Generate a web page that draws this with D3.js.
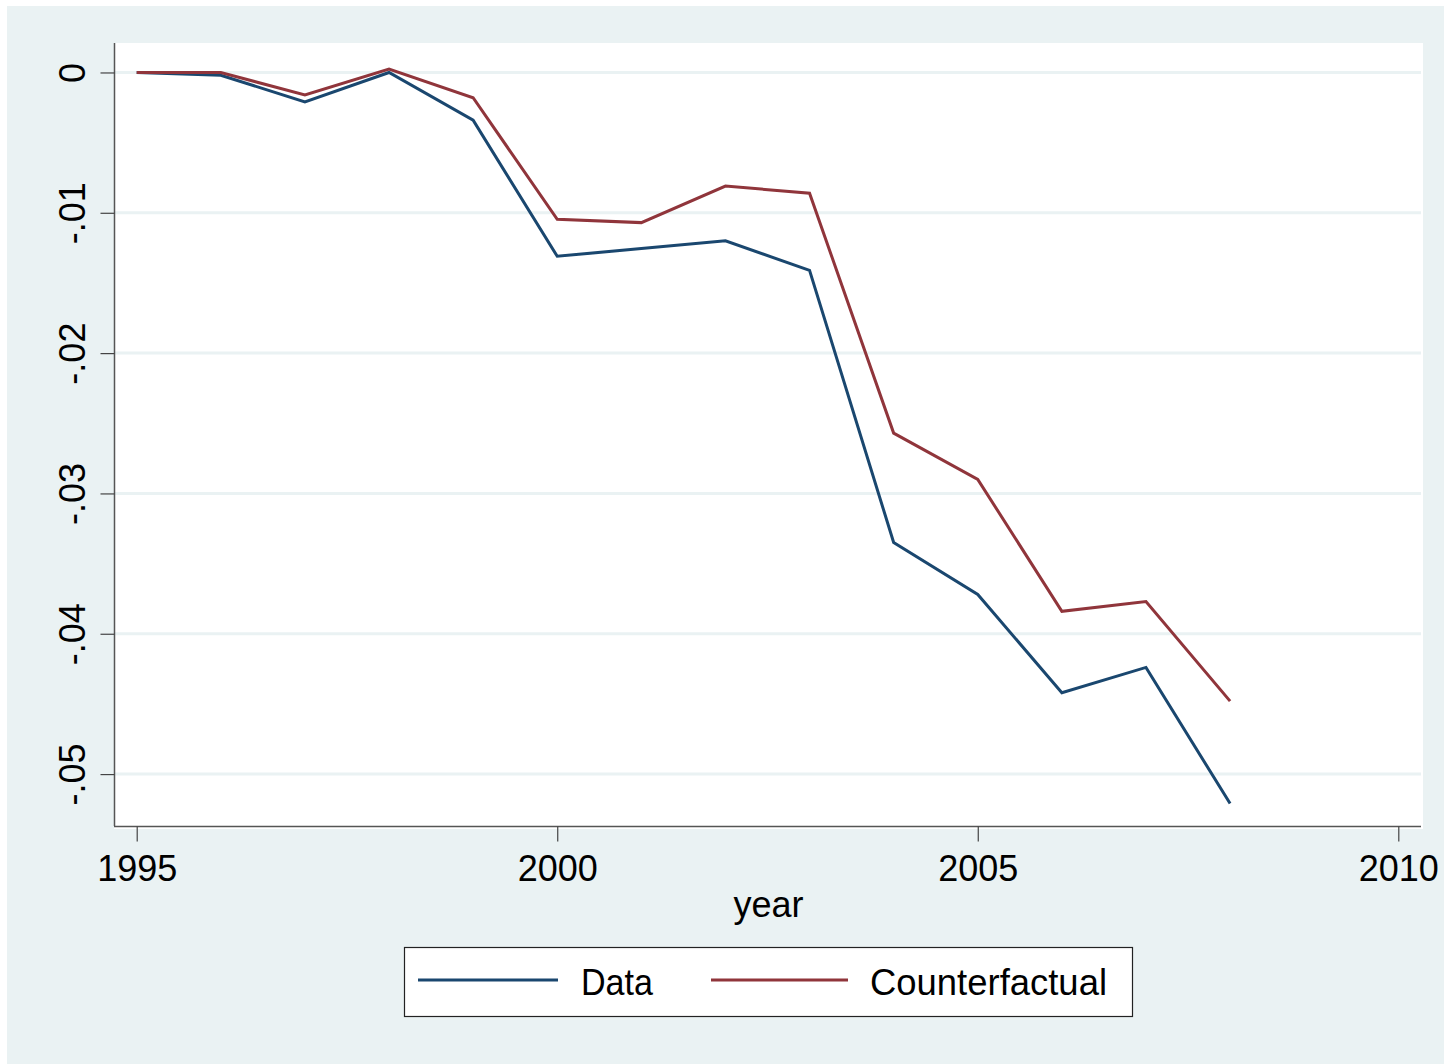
<!DOCTYPE html>
<html>
<head>
<meta charset="utf-8">
<script src="https://cdn.jsdelivr.net/npm/d3@7"></script>
<style>
  html, body { margin: 0; padding: 0; background: #ffffff; }
  svg { display: block; }
  text { font-family: "Liberation Sans", Arial, sans-serif; fill: #000; }
</style>
</head>
<body>
<svg id="chart" width="1444" height="1064"></svg>
<script>
// Years on the horizontal axis
const years = [1995, 1996, 1997, 1998, 1999, 2000, 2001, 2002, 2003, 2004, 2005, 2006, 2007, 2008];

// Observed series
const dataValues = [0, -0.0002, -0.0021, 0.0000, -0.0034, -0.0131, -0.01255, -0.0120, -0.0141,
                    -0.0335, -0.0372, -0.0442, -0.0424, -0.0521];

// Counterfactual series
const counterfactualValues = [0, 0.0000, -0.0016, 0.00025, -0.0018, -0.01046, -0.0107, -0.0081, -0.0086,
                              -0.0257, -0.0290, -0.0384, -0.0377, -0.0448];

const xTicks = [1995, 2000, 2005, 2010];
const yTicks = [0, -0.01, -0.02, -0.03, -0.04, -0.05];
const yTickLabels = ["0", "-.01", "-.02", "-.03", "-.04", "-.05"];
const seriesNames = ["Data", "Counterfactual"];
const seriesColors = ["#1a476f", "#90353b"];
const xTitle = "year";

const svg = d3.select("#chart");
const bg = "#eaf2f3";

// Graph background
svg.append("rect").attr("x", 7).attr("y", 6).attr("width", 1437).attr("height", 1058).attr("fill", bg);

const plot = { left: 114, right: 1421, top: 43, bottom: 826 };

// Plot region
svg.append("rect")
  .attr("x", plot.left).attr("y", plot.top)
  .attr("width", plot.right - plot.left + 2).attr("height", plot.bottom - plot.top + 3)
  .attr("fill", "#ffffff");

const x = d3.scaleLinear().domain([1994.73, 2010.27]).range([plot.left, plot.right]);
const y = d3.scaleLinear().domain([-0.0537, 0.0021]).range([plot.bottom, plot.top]);

// Horizontal grid lines
svg.append("g").selectAll("line").data(yTicks).join("line")
  .attr("x1", plot.left + 1).attr("x2", plot.right)
  .attr("y1", d => y(d)).attr("y2", d => y(d))
  .attr("stroke", bg).attr("stroke-width", 3);

// Series lines
const line = d3.line().x(d => x(d[0])).y(d => y(d[1]));
[dataValues, counterfactualValues].forEach((vals, i) => {
  svg.append("path")
    .datum(years.map((yr, j) => [yr, vals[j]]))
    .attr("d", line)
    .attr("fill", "none")
    .attr("stroke", seriesColors[i])
    .attr("stroke-width", 3)
    .attr("stroke-linejoin", "miter");
});

// Y axis
const yAxis = d3.axisLeft(y).tickValues(yTicks).tickSize(14).tickPadding(16)
  .tickFormat((d, i) => yTickLabels[i]);
const gy = svg.append("g").attr("transform", `translate(${plot.left + 0.5},0)`).call(yAxis);
gy.select(".domain").attr("d", `M0,${plot.top}V${plot.bottom}`).attr("stroke", "#555").attr("stroke-width", 1.5);
gy.selectAll(".tick line").attr("stroke", "#444").attr("stroke-width", 1.2);
gy.selectAll(".tick text")
  .attr("font-size", 36)
  .attr("text-anchor", "middle")
  .attr("dy", 0)
  .attr("x", 0)
  .attr("transform", "translate(-30,0) rotate(-90)");

// X axis
const xAxis = d3.axisBottom(x).tickValues(xTicks).tickSize(15).tickPadding(8).tickFormat(d3.format("d"));
const gx = svg.append("g").attr("transform", `translate(0,${plot.bottom + 0.5})`).call(xAxis);
gx.select(".domain").attr("d", `M${plot.left},0H${plot.right}`).attr("stroke", "#555").attr("stroke-width", 1.5);
gx.selectAll(".tick line").attr("stroke", "#444").attr("stroke-width", 1.2);
gx.selectAll(".tick text").attr("font-size", 36).attr("dy", 0).attr("y", 54);

// X axis title
svg.append("text")
  .attr("x", (plot.left + plot.right) / 2 + 1).attr("y", 917)
  .attr("text-anchor", "middle").attr("font-size", 36)
  .text(xTitle);

// Legend
const legend = svg.append("g");
legend.append("rect")
  .attr("x", 404.5).attr("y", 947.5).attr("width", 728).attr("height", 69)
  .attr("fill", "#ffffff").attr("stroke", "#222").attr("stroke-width", 1.2);
const legendItems = [
  { x1: 418, x2: 558, tx: 581, tw: 72 },
  { x1: 711, x2: 848, tx: 870, tw: 237 }
];
legendItems.forEach((it, i) => {
  legend.append("line")
    .attr("x1", it.x1).attr("x2", it.x2).attr("y1", 980).attr("y2", 980)
    .attr("stroke", seriesColors[i]).attr("stroke-width", 3);
  legend.append("text")
    .attr("x", it.tx).attr("y", 995)
    .attr("font-size", 37)
    .attr("textLength", it.tw).attr("lengthAdjust", "spacingAndGlyphs")
    .text(seriesNames[i]);
});
</script>
</body>
</html>
